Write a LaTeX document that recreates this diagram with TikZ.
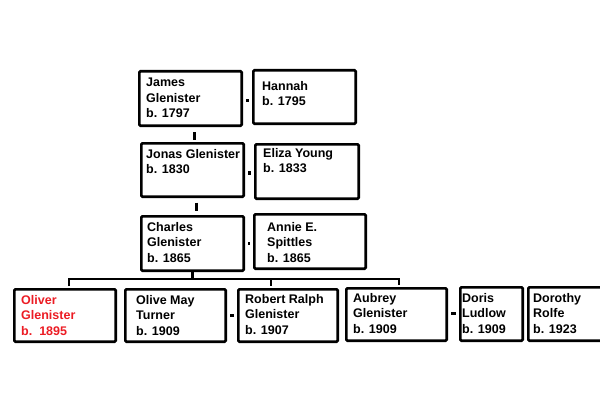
\documentclass[tikz,border=0pt]{standalone}
\usepackage{fontspec}
\setmainfont{Liberation Sans}
\definecolor{oliverred}{RGB}{236,28,36}
\tikzset{
  gbox/.style={draw=black, line width=2.6pt, rounded corners=1.2pt, inner sep=0pt, fill=white},
  gtext/.style={anchor=north west, inner sep=0pt, align=left, font=\fontsize{12.5}{15.5}\selectfont\bfseries},
  marry/.style={line width=3.8pt, shorten <=3pt, shorten >=3pt},
  kid/.style={line width=2.6pt},
  sib/.style={line width=2.2pt}
}
\newcommand{\gbox}[5]{\node[gbox, minimum width={#4-#2-2.6}, minimum height={#5-#3-2.6}] (#1) at ({(#2+#4)/2},{(#3+#5)/2}) {};}
\begin{document}
\begin{tikzpicture}[x=1pt,y=-1pt]
\useasboundingbox (0,0) rectangle (600,420);
\fill[white] (0,0) rectangle (600,420);
\clip (0,0) rectangle (600,420);
% boxes
\gbox{james}{138}{70}{243}{127}
\gbox{hannah}{252}{69}{357}{125}
\gbox{jonas}{140}{142}{245}{198}
\gbox{eliza}{254}{143}{360}{200}
\gbox{charles}{140}{215}{245}{272}
\gbox{annie}{253}{213}{367}{270}
\gbox{oliver}{13}{288}{117}{343}
\gbox{olive}{124}{288}{227}{343}
\gbox{robert}{237}{288}{339}{343}
\gbox{aubrey}{345}{287}{448}{342}
\gbox{doris}{459}{286}{524}{342}
\gbox{dorothy}{527}{286}{622}{342}
% texts
\node[gtext] (tjames) at (146,78) {James\\Glenister\\b. 1797};
\node[gtext] (thannah) at (262,81) {Hannah\\b. 1795};
\node[gtext] (tjonas) at (146,149) {Jonas Glenister\\b. 1830};
\node[gtext] (teliza) at (263,148) {Eliza Young\\b. 1833};
\node[gtext] (tcharles) at (147,222) {Charles\\Glenister\\b. 1865};
\node[gtext] (tannie) at (267,222) {Annie E.\\Spittles\\b. 1865};
\node[gtext, text=oliverred] (toliver) at (21,295) {Oliver\\Glenister\\b.\ \ 1895};
\node[gtext] (tolive) at (136,295) {Olive May\\Turner\\b. 1909};
\node[gtext] (trobert) at (245,294) {Robert Ralph\\Glenister\\b. 1907};
\node[gtext] (taubrey) at (353,293) {Aubrey\\Glenister\\b. 1909};
\node[gtext] (tdoris) at (462,293) {Doris\\Ludlow\\b. 1909};
\node[gtext] (tdorothy) at (533,293) {Dorothy\\Rolfe\\b. 1923};
% marriages
\draw[marry] ([yshift=-2pt]james.east) -- ([yshift=-2pt]james.east -| hannah.west);
\draw[marry] ([yshift=-3pt]jonas.east) -- ([yshift=-3pt]jonas.east -| eliza.west);
\draw[marry] (charles.east) -- (charles.east -| annie.west);
\draw[marry] (olive.east) -- (olive.east -| robert.west);
\draw[marry] ([yshift=1pt]aubrey.east) -- ([yshift=1pt]aubrey.east -| doris.west);
% descent
\draw[kid, shorten <=5pt, shorten >=2pt] ([xshift=4pt]james.south) -- ([xshift=4pt]james.south |- jonas.north);
\draw[kid, shorten <=4.5pt, shorten >=4pt] ([xshift=4pt]jonas.south) -- ([xshift=4pt]jonas.south |- charles.north);
\coordinate (barL) at (69,279);
\coordinate (barM) at (271,279);
\coordinate (barR) at (399,279);
\draw[sib] (charles.south) -- (charles.south |- barM);
\draw[sib, shorten <=2pt, shorten >=2pt, line join=miter] (oliver.north -| barL) -- (barL) -- (barR) -- (aubrey.north -| barR);
\draw[sib, shorten >=2pt] (barM) -- (barM |- robert.north);
\end{tikzpicture}
\end{document}
